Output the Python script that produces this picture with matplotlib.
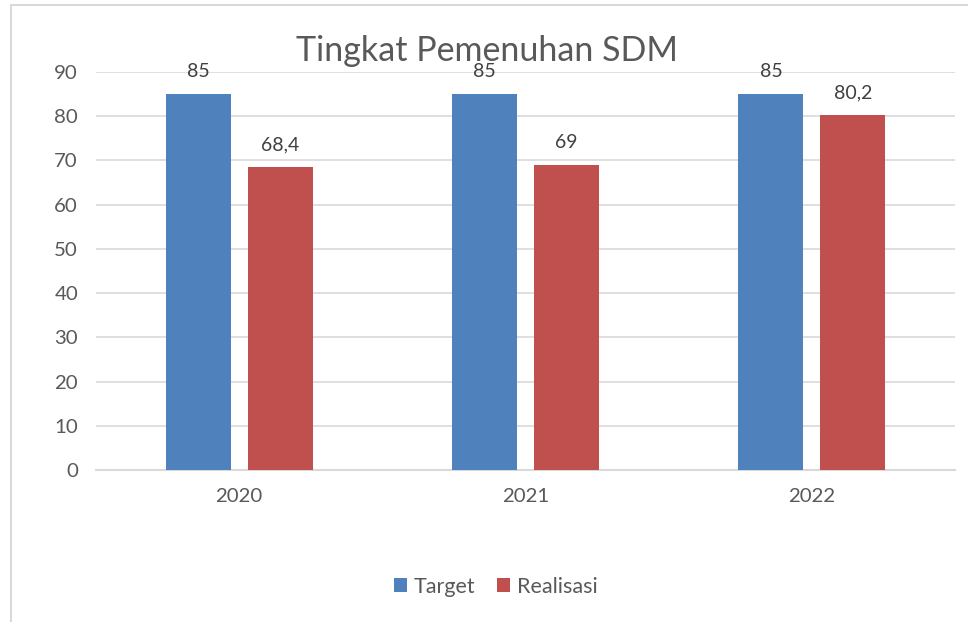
import matplotlib.pyplot as plt
import numpy as np
from matplotlib.patches import Rectangle

years = ['2020', '2021', '2022']
target = [85, 85, 85]
realisasi = [68.4, 69, 80.2]

plt.rcParams['font.family'] = ['Lato', 'DejaVu Sans']

fig = plt.figure(figsize=(9.68, 6.22), dpi=100)
ax = fig.add_axes([0.0992, 0.2444, 0.8874, 0.6399])

x = np.arange(len(years))
w = 0.227
b1 = ax.bar(x - 0.143, target, w, color='#4F81BD', label='Target', zorder=3)
b2 = ax.bar(x + 0.143, realisasi, w, color='#C0504D', label='Realisasi', zorder=3)

for bars in (b1, b2):
    for r in bars:
        v = r.get_height()
        txt = ('%g' % v).replace('.', ',')
        ax.annotate(txt, (r.get_x() + r.get_width() / 2, v), xytext=(0, 14),
                    textcoords='offset pixels', ha='center', va='bottom',
                    fontsize=14, color='#404040')

ax.set_xlim(-0.5, 2.5)
ax.set_ylim(0, 90)
ax.set_yticks(range(0, 91, 10))
ax.set_xticks(x)
ax.set_xticklabels(years)
ax.tick_params(axis='both', length=0, labelsize=14.7, labelcolor='#595959')
ax.tick_params(axis='y', pad=13)
ax.tick_params(axis='x', pad=13)
ax.grid(axis='y', color='#d9d9d9', linewidth=1.2, zorder=0)
for s in ['top', 'right', 'left']:
    ax.spines[s].set_visible(False)
ax.spines['bottom'].set_color('#d9d9d9')
ax.spines['bottom'].set_linewidth(1.5)

fig.text(0.503, 0.918, 'Tingkat Pemenuhan SDM', ha='center', va='center',
         fontsize=24.5, color='#595959')

fig.legend(loc='center', bbox_to_anchor=(0.512, 0.057), ncol=2, frameon=False,
           fontsize=15.5, labelcolor='#595959', handlelength=0.6, handleheight=0.6,
           handletextpad=0.3, columnspacing=1.05)

fig.patches.append(Rectangle((11 / 968, -0.1), 1.0, 1 - 5 / 622 + 0.1,
                             transform=fig.transFigure, fill=False,
                             edgecolor='#d9d9d9', linewidth=1.5))

fig.savefig('out.png', dpi=100)
